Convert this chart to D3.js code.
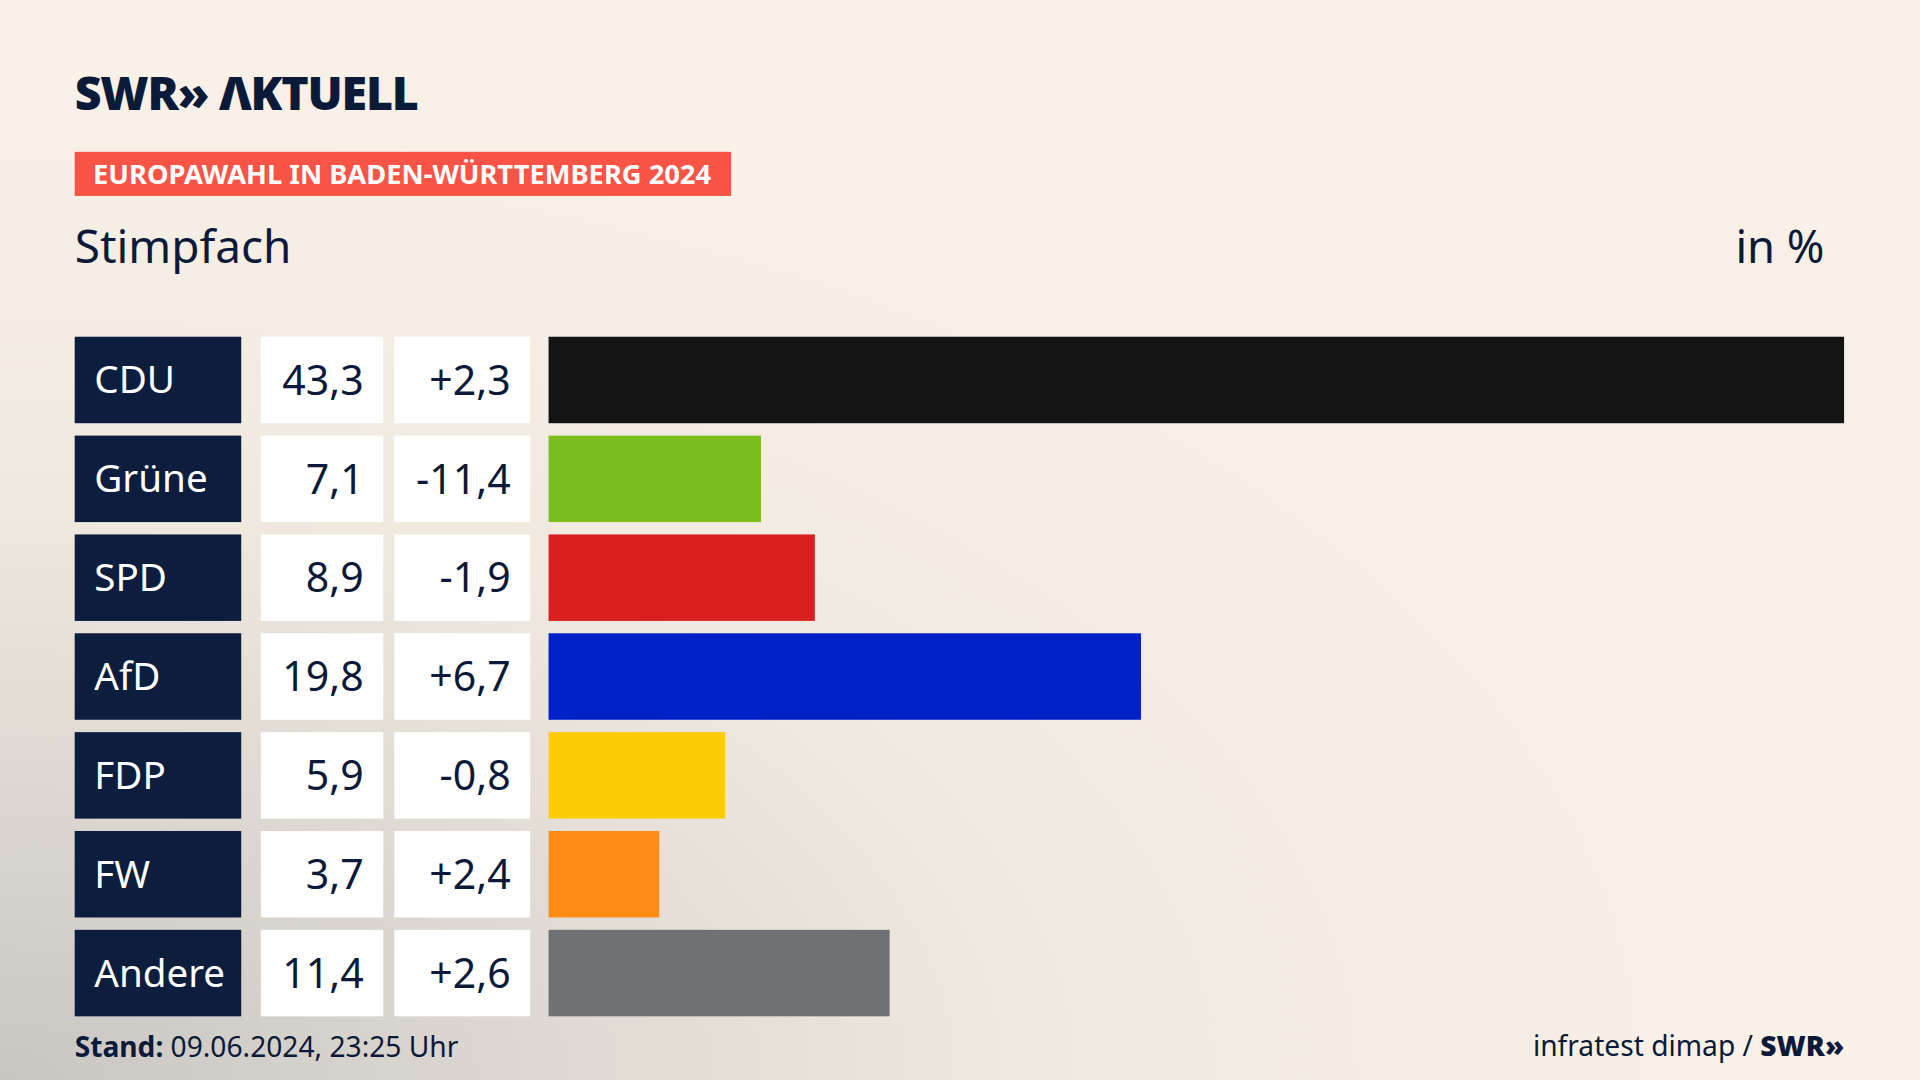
<!DOCTYPE html>
<html><head><meta charset="utf-8">
<script src="https://cdn.jsdelivr.net/npm/d3@7"></script>
<style>html,body{margin:0;padding:0;overflow:hidden;background:#f8f0e6}</style>
</head><body>
<svg id="c" width="1920" height="1080" viewBox="0 0 1568 882"></svg>
<script>
const parties = ["CDU","Grüne","SPD","AfD","FDP","FW","Andere"];
const values = [43.3,7.1,8.9,19.8,5.9,3.7,11.4];
const changes = ["+2,3","-11,4","-1,9","+6,7","-0,8","+2,4","+2,6"];
const colors = ["#141414","#7bbf1e","#d7201f","#0020c8","#ffcc0a","#ff8c14","#707173"];
const fmt = v => v.toFixed(1).replace(".", ",");

const svg = d3.select("#c");
const defs = svg.append("defs");
const g1 = defs.append("radialGradient").attr("id","bg").attr("cx","0").attr("cy","1").attr("r","0.9");
g1.append("stop").attr("offset","0").attr("stop-color","#c9c6c2");
g1.append("stop").attr("offset","0.6").attr("stop-color","#f0e9e0");
g1.append("stop").attr("offset","1").attr("stop-color","#f9f1e7");
svg.append("rect").attr("width",1568).attr("height",882).attr("fill","#f9f1e7");
svg.append("rect").attr("width",1568).attr("height",882).attr("fill","url(#bg)");

const font = "'Noto Sans', sans-serif";
const navy = "#0c1a3a";
svg.append("text").attr("x",61).attr("y",90).attr("font-family",font).attr("font-weight",900)
  .attr("font-size",38).attr("fill",navy).attr("letter-spacing",-1).text("SWR» ΛKTUELL");
svg.append("rect").attr("x",61).attr("y",124).attr("width",536).attr("height",36).attr("fill","#fa5446");
svg.append("text").attr("x",76).attr("y",150).attr("font-family",font).attr("font-weight",700)
  .attr("font-size",22.3).attr("fill","#fff").text("EUROPAWAHL IN BADEN-WÜRTTEMBERG 2024");
svg.append("text").attr("x",61).attr("y",215).attr("font-family",font).attr("font-size",37.5).attr("fill",navy).text("Stimpfach");
svg.append("text").attr("x",1490).attr("y",215).attr("text-anchor","end").attr("font-family",font).attr("font-size",37).attr("fill",navy).text("in %");

const y = d3.scaleBand().domain(parties).range([275,830]).paddingInner(0.125).paddingOuter(0);
const x = d3.scaleLinear().domain([0,43.3]).range([448,1506]);
const rows = svg.selectAll("g.r").data(parties).join("g");
rows.append("rect").attr("x",61).attr("y",d=>y(d)).attr("width",136).attr("height",y.bandwidth()).attr("fill","#0c1d3d");
rows.append("text").attr("x",77).attr("y",d=>y(d)+y.bandwidth()/2+11).attr("font-family",font).attr("font-size",31.5).attr("fill","#fff").text(d=>d);
rows.append("rect").attr("x",213).attr("y",d=>y(d)).attr("width",100).attr("height",y.bandwidth()).attr("fill","#fff");
rows.append("text").attr("x",297).attr("y",d=>y(d)+y.bandwidth()/2+12).attr("text-anchor","end").attr("font-family",font).attr("font-size",33.5).attr("fill",navy).text((d,i)=>fmt(values[i]));
rows.append("rect").attr("x",322).attr("y",d=>y(d)).attr("width",111).attr("height",y.bandwidth()).attr("fill","#fff");
rows.append("text").attr("x",417).attr("y",d=>y(d)+y.bandwidth()/2+12).attr("text-anchor","end").attr("font-family",font).attr("font-size",33.5).attr("fill",navy).text((d,i)=>changes[i]);
rows.append("rect").attr("x",x(0)).attr("y",d=>y(d)).attr("width",(d,i)=>x(values[i])-x(0)).attr("height",y.bandwidth()).attr("fill",(d,i)=>colors[i]);

const ft = svg.append("text").attr("x",61).attr("y",863).attr("font-family",font).attr("font-size",23).attr("fill",navy);
ft.append("tspan").attr("font-weight",700).text("Stand:");
ft.append("tspan").text(" 09.06.2024, 23:25 Uhr");
const fr = svg.append("text").attr("x",1506).attr("y",862).attr("text-anchor","end").attr("font-family",font).attr("font-size",23).attr("fill",navy);
fr.append("tspan").text("infratest dimap / ");
fr.append("tspan").attr("font-weight",900).text("SWR»");
</script>
</body></html>
